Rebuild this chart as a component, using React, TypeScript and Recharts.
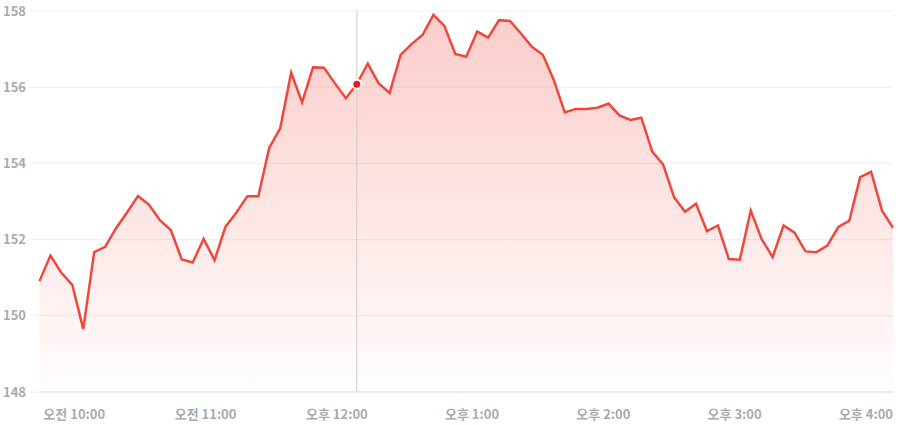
import React from "react";
import {
  AreaChart,
  Area,
  XAxis,
  YAxis,
  CartesianGrid,
  ReferenceLine,
  ReferenceDot,
} from "recharts";

// 5-minute bars, 9:30 to 16:00
const times = [
  "09:30", "09:35", "09:40", "09:45", "09:50", "09:55",
  "10:00", "10:05", "10:10", "10:15", "10:20", "10:25",
  "10:30", "10:35", "10:40", "10:45", "10:50", "10:55",
  "11:00", "11:05", "11:10", "11:15", "11:20", "11:25",
  "11:30", "11:35", "11:40", "11:45", "11:50", "11:55",
  "12:00", "12:05", "12:10", "12:15", "12:20", "12:25",
  "12:30", "12:35", "12:40", "12:45", "12:50", "12:55",
  "13:00", "13:05", "13:10", "13:15", "13:20", "13:25",
  "13:30", "13:35", "13:40", "13:45", "13:50", "13:55",
  "14:00", "14:05", "14:10", "14:15", "14:20", "14:25",
  "14:30", "14:35", "14:40", "14:45", "14:50", "14:55",
  "15:00", "15:05", "15:10", "15:15", "15:20", "15:25",
  "15:30", "15:35", "15:40", "15:45", "15:50", "15:55",
  "16:00",
];

const prices = [
  150.91, 151.58, 151.13, 150.81, 149.65, 151.67, 151.81, 152.3, 152.71, 153.14,
  152.92, 152.51, 152.25, 151.48, 151.4, 152.02, 151.46, 152.34, 152.71, 153.14,
  153.14, 154.41, 154.92, 156.38, 155.6, 156.52, 156.51, 156.1, 155.71, 156.08,
  156.62, 156.1, 155.85, 156.85, 157.13, 157.37, 157.9, 157.61, 156.87, 156.8,
  157.46, 157.3, 157.76, 157.74, 157.41, 157.06, 156.85, 156.19, 155.34, 155.43,
  155.43, 155.46, 155.57, 155.26, 155.14, 155.2, 154.31, 153.97, 153.11, 152.73,
  152.94, 152.22, 152.37, 151.49, 151.47, 152.76, 152.01, 151.54, 152.37, 152.18,
  151.69, 151.67, 151.84, 152.33, 152.49, 153.64, 153.78, 152.76, 152.31,
];

const xTicks = ["10:00", "11:00", "12:00", "13:00", "14:00", "15:00", "16:00"];
const xTickLabels = ["오전 10:00", "오전 11:00", "오후 12:00", "오후 1:00", "오후 2:00", "오후 3:00", "오후 4:00"];
const yTicks = [148, 150, 152, 154, 156, 158];

const hoverIndex = 29;

const data = times.map((t, i) => ({ time: t, price: prices[i] }));

const LINE = "#f0473c";
const FONT = "'Noto Sans CJK KR', 'Noto Sans', sans-serif";

const TimeTick = (props: any) => {
  const { x, y, payload } = props;
  const idx = xTicks.indexOf(payload.value);
  return (
    <text
      x={x}
      y={y}
      dy="0.71em"
      textAnchor="end"
      fill="#aaaaaa"
      fontSize={13}
      fontWeight={700}
      fontFamily={FONT}
    >
      {idx >= 0 ? xTickLabels[idx] : payload.value}
    </text>
  );
};

export default function App() {
  return (
    <div style={{ position: "absolute", left: 0, top: 0, background: "#fff" }}>
      <AreaChart
        width={898}
        height={425}
        data={data}
        margin={{ top: 11, right: 5, left: 0, bottom: 0 }}
      >
        <defs>
          <linearGradient id="priceFill" x1="0" y1="0" x2="0" y2="1">
            <stop offset="0%" stopColor={LINE} stopOpacity={0.45} />
            <stop offset="100%" stopColor={LINE} stopOpacity={0.02} />
          </linearGradient>
        </defs>
        <CartesianGrid vertical={false} stroke="#eeeeee" />
        <XAxis
          dataKey="time"
          ticks={xTicks}
          interval={0}
          height={33}
          tickLine={false}
          tickSize={0}
          tickMargin={18}
          axisLine={{ stroke: "#dddddd" }}
          tick={<TimeTick />}
        />
        <YAxis
          domain={[148, 158]}
          ticks={yTicks}
          width={39.5}
          axisLine={false}
          tickSize={9.5}
          tickMargin={4}
          tickLine={{ stroke: "#eeeeee" }}
          tick={{ fill: "#aaaaaa", fontSize: 13, fontWeight: 700, fontFamily: FONT }}
        />
        <ReferenceLine x={times[hoverIndex]} stroke="#cccccc" strokeWidth={1} />
        <Area
          type="linear"
          dataKey="price"
          stroke={LINE}
          strokeWidth={2.5}
          fill="url(#priceFill)"
          dot={false}
          activeDot={false}
          isAnimationActive={false}
        />
        <ReferenceDot
          x={times[hoverIndex]}
          y={prices[hoverIndex]}
          r={4.5}
          fill="#f5141e"
          stroke="#ffffff"
          strokeWidth={2}
        />
      </AreaChart>
    </div>
  );
}
